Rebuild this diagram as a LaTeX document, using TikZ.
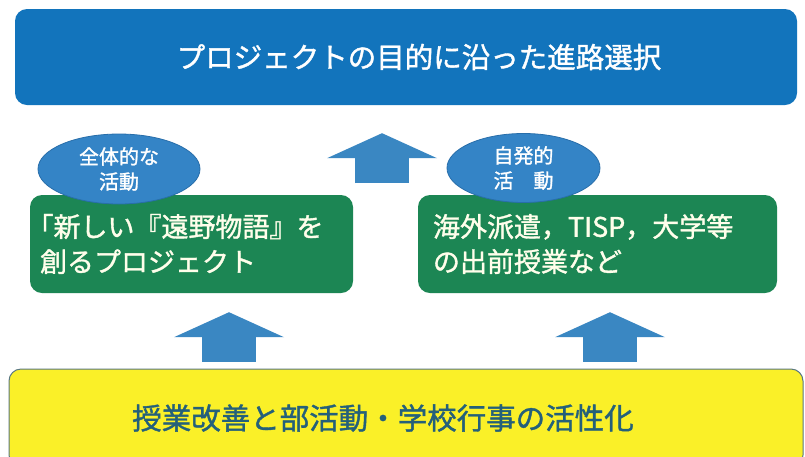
\documentclass[tikz,border=0pt]{standalone}
\usepackage{fontspec}
\setmainfont{Noto Sans CJK JP}[AutoFakeBold=1.3]
\usetikzlibrary{arrows.meta, shapes.geometric, positioning}
\definecolor{topblue}{RGB}{18,116,188}
\definecolor{ovalblue}{RGB}{52,132,198}
\definecolor{ovalline}{RGB}{40,110,170}
\definecolor{arrowblue}{RGB}{58,135,194}
\definecolor{boxgreen}{RGB}{28,134,84}
\definecolor{baseyellow}{RGB}{250,240,40}
\definecolor{baseline}{RGB}{90,120,130}
\definecolor{basetext}{RGB}{36,96,122}

\begin{document}
\begin{tikzpicture}[x=1pt,y=-1pt,
        box/.style={rounded corners=12pt, inner sep=0pt},
        greenbox/.style={box, fill=boxgreen, text=white!92!yellow, align=left,
                         minimum height=98pt, font=\fontsize{27}{35}\selectfont\bfseries},
        oval/.style={ellipse, fill=ovalblue, draw=ovalline, line width=0.8pt, inner sep=0pt,
                     text=white, align=center, font=\fontsize{20}{25}\selectfont\bfseries},
        bigarrow/.style={draw=arrowblue, line width=54pt,
                         -{Triangle[length=25pt, width=110pt, line width=0pt]}}]
    \clip (0,0) rectangle (805,456);
    \fill[white] (0,0) rectangle (805,456);

    \node[box, fill=topblue, text=white, minimum width=782pt, minimum height=96pt,
          font=\fontsize{28.5}{34}\selectfont\bfseries]         (goal)  at (406,57)
          {\hspace*{26pt}プロジェクトの目的に沿った進路選択};
    \node[greenbox, minimum width=323pt, text width=303pt]      (whole) at (191.5,244)
          {\hspace*{-.5em}「新しい『遠野物語』を\\創るプロジェクト};
    \node[greenbox, minimum width=359pt, text width=329pt]      (self)  at (597.5,244)
          {海外派遣，TISP，大学等\\の出前授業など};
    \node[oval, minimum width=162pt, minimum height=70pt]       (wtag)  at (119,169)
          {全体的な\\活動};
    \node[oval, minimum width=153pt, minimum height=69pt]       (stag)  at (523.5,168)
          {自発的\\活　動};
    \node[box, fill=baseyellow, draw=baseline, line width=1pt, minimum width=794pt,
          minimum height=98pt, text=basetext, font=\fontsize{29.5}{34}\selectfont\bfseries]
                                                                (base)  at (406,418)
          {授業改善と部活動・学校行事の活性化\hspace*{46pt}};

    % block arrows
    \coordinate (lx) at (229,0);
    \coordinate (rx) at (610,0);
    \coordinate (mx) at (382,183);
    \draw[bigarrow, shorten <=7pt, shorten >=19pt] (lx |- base.north) -- (lx |- whole.south);
    \draw[bigarrow, shorten <=7pt, shorten >=19pt] (rx |- base.north) -- (rx |- self.south);
    \draw[bigarrow, shorten >=28pt] (mx) -- (mx |- goal.south);
\end{tikzpicture}
\end{document}
